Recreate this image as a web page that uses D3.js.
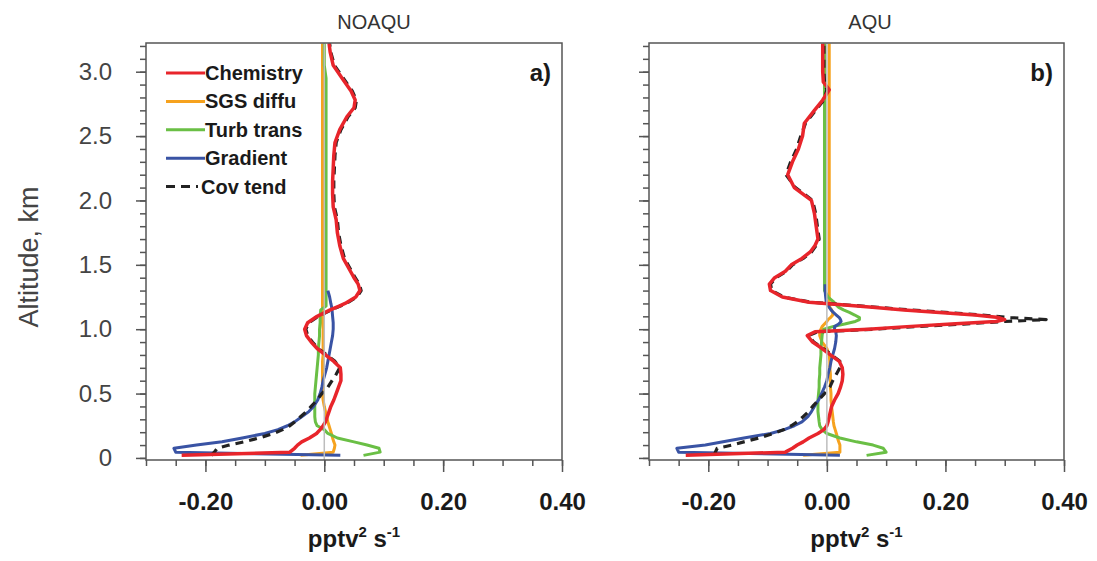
<!DOCTYPE html>
<html>
<head>
<meta charset="utf-8">
<script src="https://cdn.jsdelivr.net/npm/d3@7"></script>
<style>
  body { margin: 0; background: #fff; }
  svg { display: block; font-family: "Liberation Sans", Arial, Helvetica, sans-serif; }
</style>
</head>
<body>
<script>
// ---- data (pptv^2 s^-1 vs altitude in km) ----
const seriesNames = ["Chemistry", "SGS diffu", "Turb trans", "Gradient", "Cov tend"];
const panelTitles = ["NOAQU", "AQU"];
const panelTags = ["a)", "b)"];
const xTickLabels = [-0.20, 0.00, 0.20, 0.40];
const yTickLabels = [0, 0.5, 1.0, 1.5, 2.0, 2.5, 3.0];

const altA = [0.02, 0.045, 0.075, 0.1, 0.125, 0.155, 0.19, 0.22, 0.25, 0.28,
  0.32, 0.36, 0.4, 0.45, 0.5, 0.55, 0.6, 0.65, 0.7, 0.75,
  0.8, 0.85, 0.9, 0.95, 1.0, 1.05, 1.1, 1.15, 1.18, 1.2,
  1.25, 1.3, 1.35, 1.4, 1.45, 1.55, 1.65, 1.75, 1.85, 1.95,
  2.05, 2.15, 2.25, 2.35, 2.45, 2.55, 2.65, 2.72, 2.78, 2.85,
  2.95, 3.05, 3.15, 3.22];
const chemA = [-0.24, -0.058, -0.05, -0.045, -0.038, -0.025, -0.013, -0.007, -0.002, 0.002,
  0.005, 0.008, 0.011, 0.016, 0.02, 0.024, 0.028, 0.028, 0.027, 0.016,
  0.002, -0.012, -0.022, -0.03, -0.033, -0.028, -0.012, 0.01, 0.025, 0.035,
  0.053, 0.06, 0.057, 0.05, 0.044, 0.032, 0.026, 0.022, 0.02, 0.015,
  0.014, 0.014, 0.015, 0.016, 0.018, 0.026, 0.038, 0.05, 0.052, 0.045,
  0.03, 0.015, 0.01, 0.008];
const sgsA = [-0.04, 0.015, 0.017, 0.018, 0.016, 0.014, 0.012, 0.01, 0.008, 0.006,
  0.004, 0.002, 0.0, -0.002, -0.003, -0.003, -0.003, -0.003, -0.003, -0.003,
  -0.002, -0.002, -0.002, -0.002, -0.002, -0.003, -0.003, -0.003, -0.003, -0.003,
  -0.003, -0.003, -0.003, -0.003, -0.003, -0.003, -0.003, -0.003, -0.003, -0.003,
  -0.003, -0.003, -0.003, -0.003, -0.003, -0.003, -0.003, -0.003, -0.003, -0.003,
  -0.003, -0.003, -0.003, -0.003];
const turbA = [0.066, 0.094, 0.092, 0.072, 0.05, 0.022, 0.006, 0.0, -0.012, -0.015,
  -0.016, -0.016, -0.016, -0.016, -0.016, -0.015, -0.014, -0.013, -0.012, -0.011,
  -0.01, -0.01, -0.009, -0.008, -0.008, -0.007, -0.007, -0.006, 0.003, 0.003,
  0.003, 0.003, 0.003, 0.003, 0.003, 0.003, 0.003, 0.003, 0.003, 0.003,
  0.003, 0.003, 0.003, 0.003, 0.003, 0.003, 0.003, 0.003, 0.003, 0.003,
  0.003, 0.0, 0.0, 0.0];
const gradA = [0.027, -0.25, -0.253, -0.215, -0.172, -0.138, -0.1, -0.078, -0.062, -0.05,
  -0.038, -0.026, -0.018, -0.011, -0.007, -0.004, -0.002, 0.001, 0.004, 0.006,
  0.008, 0.01, 0.012, 0.014, 0.015, 0.015, 0.014, 0.013, 0.012, 0.011,
  0.009, 0.006, null, null, null, null, null, null, null, null,
  null, null, null, null, null, null, null, null, null, null,
  null, null, null, null];
const covA = [-0.19, -0.185, -0.18, -0.16, -0.135, -0.11, -0.085, -0.07, -0.058, -0.05,
  -0.04, -0.03, -0.022, -0.012, -0.004, 0.006, 0.013, 0.02, 0.026, 0.018,
  0.004, -0.01, -0.02, -0.028, -0.031, -0.026, -0.01, 0.012, 0.027, 0.037,
  0.055, 0.062, 0.059, 0.052, 0.046, 0.034, 0.028, 0.024, 0.022, 0.017,
  0.016, 0.016, 0.017, 0.018, 0.02, 0.028, 0.04, 0.052, 0.054, 0.047,
  0.032, 0.017, 0.011, 0.009];

const altB = [0.02, 0.045, 0.075, 0.1, 0.125, 0.155, 0.19, 0.22, 0.25, 0.28,
  0.32, 0.36, 0.4, 0.45, 0.5, 0.55, 0.6, 0.65, 0.7, 0.75,
  0.8, 0.85, 0.9, 0.95, 0.98, 1.0, 1.02, 1.04, 1.06, 1.075,
  1.09, 1.11, 1.13, 1.15, 1.17, 1.19, 1.21, 1.25, 1.3, 1.35,
  1.4, 1.45, 1.5, 1.55, 1.6, 1.65, 1.7, 1.8, 1.9, 2.0,
  2.1, 2.2, 2.3, 2.4, 2.5, 2.6, 2.7, 2.78, 2.86, 2.92,
  3.0, 3.1, 3.22];
const chemB = [-0.238, -0.07, -0.058, -0.05, -0.04, -0.03, -0.015, -0.005, 0.0, 0.002,
  0.004, 0.006, 0.008, 0.013, 0.019, 0.023, 0.026, 0.027, 0.026, 0.021,
  0.006, -0.008, -0.024, -0.033, -0.02, 0.07, 0.135, 0.21, 0.285, 0.3,
  0.29, 0.25, 0.19, 0.13, 0.077, 0.025, -0.03, -0.075, -0.095, -0.097,
  -0.088, -0.07, -0.06, -0.042, -0.028, -0.02, -0.015, -0.018, -0.021, -0.026,
  -0.055, -0.066, -0.058, -0.048, -0.041, -0.038, -0.021, -0.007, 0.004, -0.006,
  -0.007, -0.007, -0.007];
const sgsB = [-0.04, 0.022, 0.022, 0.022, 0.02, 0.018, 0.016, 0.014, 0.012, 0.011,
  0.01, 0.009, 0.008, 0.007, 0.007, 0.006, 0.006, 0.006, 0.005, 0.005,
  0.004, 0.0, -0.008, -0.012, -0.012, -0.01, -0.008, -0.004, 0.0, 0.002,
  0.006, 0.01, 0.01, 0.008, 0.005, 0.004, 0.004, 0.004, 0.004, 0.004,
  0.004, 0.004, 0.004, 0.004, 0.004, 0.004, 0.004, 0.004, 0.004, 0.004,
  0.004, 0.004, 0.004, 0.004, 0.004, 0.004, 0.004, 0.004, 0.004, 0.004,
  0.004, 0.004, 0.004];
const turbB = [0.067, 0.1, 0.095, 0.078, 0.05, 0.022, 0.0, -0.008, -0.012, -0.013,
  -0.014, -0.015, -0.015, -0.015, -0.014, -0.013, -0.013, -0.012, -0.012, -0.011,
  -0.01, -0.01, -0.009, -0.008, -0.007, -0.005, 0.01, 0.03, 0.048, 0.055,
  0.055, 0.047, 0.038, 0.028, 0.02, 0.015, 0.012, 0.002, -0.004, -0.004,
  -0.004, -0.004, -0.004, -0.004, -0.004, -0.004, -0.004, -0.004, -0.004, -0.004,
  -0.004, -0.004, -0.004, -0.004, -0.004, -0.004, -0.004, -0.004, -0.004, -0.004,
  -0.004, -0.004, -0.004];
const gradB = [0.022, -0.25, -0.253, -0.205, -0.175, -0.14, -0.095, -0.072, -0.055, -0.042,
  -0.032, -0.026, -0.021, -0.014, -0.009, -0.004, 0.0, 0.002, 0.005, 0.007,
  0.01, 0.013, 0.015, 0.016, 0.015, 0.013, 0.013, 0.02, 0.024, 0.023,
  0.021, 0.016, 0.011, 0.007, 0.004, 0.001, -0.001, -0.002, -0.003, -0.003,
  null, null, null, null, null, null, null, null, null, null,
  null, null, null, null, null, null, null, null, null, null,
  null, null, null];
const covB = [-0.19, -0.188, -0.185, -0.16, -0.14, -0.115, -0.09, -0.072, -0.06, -0.05,
  -0.04, -0.031, -0.024, -0.014, -0.004, 0.005, 0.01, 0.016, 0.022, 0.022,
  0.008, -0.006, -0.022, -0.031, -0.015, 0.08, 0.15, 0.23, 0.3, 0.37,
  0.31, 0.26, 0.2, 0.14, 0.085, 0.03, -0.028, -0.073, -0.093, -0.095,
  -0.086, -0.068, -0.058, -0.04, -0.026, -0.018, -0.013, -0.016, -0.019, -0.024,
  -0.053, -0.069, -0.061, -0.051, -0.044, -0.036, -0.019, -0.005, 0.0, -0.004,
  -0.005, -0.005, -0.005];

const panels = [
  { alt: altA, series: [sgsA, turbA, gradA, covA, chemA], left: 146, right: 562 },
  { alt: altB, series: [sgsB, turbB, gradB, covB, chemB], left: 649, right: 1064 }
];
// draw order: SGS, Turb, Gradient, Cov, Chemistry
const drawStyle = [
  { color: "#f6a21e", width: 3, dash: null },
  { color: "#6abf45", width: 3, dash: null },
  { color: "#3953a4", width: 3, dash: null },
  { color: "#222", width: 3.2, dash: "8,6" },
  { color: "#e8252b", width: 3.5, dash: null }
];
const legendStyle = [drawStyle[4], drawStyle[0], drawStyle[1], drawStyle[2], drawStyle[3]];

const W = 1097, H = 561, plotTop = 43, plotBottom = 460;

const svg = d3.select("body").append("svg")
    .attr("width", W)
    .attr("height", H);

const y = d3.scaleLinear().domain([-0.016, 3.223]).range([plotBottom, plotTop]);

panels.forEach((p, pi) => {
  const x = d3.scaleLinear().domain([-0.30, 0.40]).range([p.left, p.right]);
  const g = svg.append("g");

  const clipId = "clip" + pi;
  svg.append("clipPath").attr("id", clipId)
    .append("rect")
    .attr("x", p.left).attr("y", plotTop)
    .attr("width", p.right - p.left).attr("height", plotBottom - plotTop);

  // curves
  const plot = g.append("g").attr("clip-path", "url(#" + clipId + ")");
  p.series.forEach((vals, si) => {
    const pts = vals.map((v, i) => [v, p.alt[i]]);
    const line = d3.line()
      .defined(d => d[0] != null)
      .x(d => x(d[0]))
      .y(d => y(d[1]));
    const st = drawStyle[si];
    plot.append("path")
      .datum(pts)
      .attr("d", line)
      .attr("fill", "none")
      .attr("stroke", st.color)
      .attr("stroke-width", st.width)
      .attr("stroke-dasharray", st.dash)
      .attr("stroke-linejoin", "round");
  });

  // zero line
  plot.append("line")
    .attr("x1", x(0)).attr("x2", x(0))
    .attr("y1", plotTop).attr("y2", plotBottom)
    .attr("stroke", "#bdbdbd")
    .attr("stroke-width", 1.5);

  // frame
  g.append("rect")
    .attr("x", p.left).attr("y", plotTop)
    .attr("width", p.right - p.left).attr("height", plotBottom - plotTop)
    .attr("fill", "none")
    .attr("stroke", "#555")
    .attr("stroke-width", 1.5);

  // x axis
  const xMinor = d3.range(-0.30, 0.401, 0.05);
  const xm = g.append("g").attr("transform", `translate(0,${plotBottom})`)
    .call(d3.axisBottom(x).tickValues(xMinor).tickSize(6).tickFormat(""));
  const xa = g.append("g").attr("transform", `translate(0,${plotBottom})`)
    .call(d3.axisBottom(x).tickValues(xTickLabels).tickSize(12).tickPadding(21)
      .tickFormat(d => d3.format(".2f")(d).replace("\u2212", "-")));
  [xm, xa].forEach(a => {
    a.select(".domain").remove();
    a.selectAll("line").attr("stroke", "#555").attr("stroke-width", 1.5);
  });
  xa.selectAll("text")
    .attr("font-size", 24)
    .attr("font-weight", "bold")
    .attr("fill", "#1a1a1a");

  // y axis
  const yMinor = d3.range(0, 3.21, 0.1);
  const ym = g.append("g").attr("transform", `translate(${p.left},0)`)
    .call(d3.axisLeft(y).tickValues(yMinor).tickSize(6).tickFormat(""));
  const ya = g.append("g").attr("transform", `translate(${p.left},0)`)
    .call(d3.axisLeft(y).tickValues(yTickLabels).tickSize(10).tickPadding(24)
      .tickFormat(d => pi === 0 ? (d === 0 ? "0" : d3.format(".1f")(d)) : ""));
  [ym, ya].forEach(a => {
    a.select(".domain").remove();
    a.selectAll("line").attr("stroke", "#555").attr("stroke-width", 1.5);
  });
  ya.selectAll("text")
    .attr("font-size", 24)
    .attr("fill", "#444");

  // x axis title
  const xt = g.append("text")
    .attr("x", (p.left + p.right) / 2)
    .attr("y", 547)
    .attr("text-anchor", "middle")
    .attr("font-size", 24)
    .attr("font-weight", "bold")
    .attr("fill", "#1a1a1a");
  xt.append("tspan").text("pptv");
  xt.append("tspan").attr("font-size", 15).attr("dy", -10).text("2");
  xt.append("tspan").attr("dy", 10).text(" s");
  xt.append("tspan").attr("font-size", 15).attr("dy", -10).text("-1");

  // panel title
  g.append("text")
    .attr("x", pi === 0 ? 374 : 870)
    .attr("y", 29)
    .attr("text-anchor", "middle")
    .attr("font-size", 20)
    .attr("fill", "#333")
    .text(panelTitles[pi]);

  // panel tag
  g.append("text")
    .attr("x", p.right - 11)
    .attr("y", 81)
    .attr("text-anchor", "end")
    .attr("font-size", 24)
    .attr("font-weight", "bold")
    .attr("fill", "#1a1a1a")
    .text(panelTags[pi]);
});

// y axis title
svg.append("text")
  .attr("transform", "translate(38,257) rotate(-90)")
  .attr("text-anchor", "middle")
  .attr("font-size", 27)
  .attr("fill", "#444")
  .text("Altitude, km");

// legend
const legend = svg.append("g");
seriesNames.forEach((name, i) => {
  const yy = 73 + i * 28.4;
  const st = legendStyle[i];
  legend.append("line")
    .attr("x1", 166).attr("x2", name === "Cov tend" ? 198 : 205)
    .attr("y1", yy).attr("y2", yy)
    .attr("stroke", st.color)
    .attr("stroke-width", 3)
    .attr("stroke-dasharray", st.dash ? "9,6" : null);
  legend.append("text")
    .attr("x", name === "Cov tend" ? 201 : 205)
    .attr("y", yy)
    .attr("dy", "0.35em")
    .attr("font-size", 20)
    .attr("font-weight", "bold")
    .attr("fill", "#1a1a1a")
    .text(name);
});
</script>
</body>
</html>
